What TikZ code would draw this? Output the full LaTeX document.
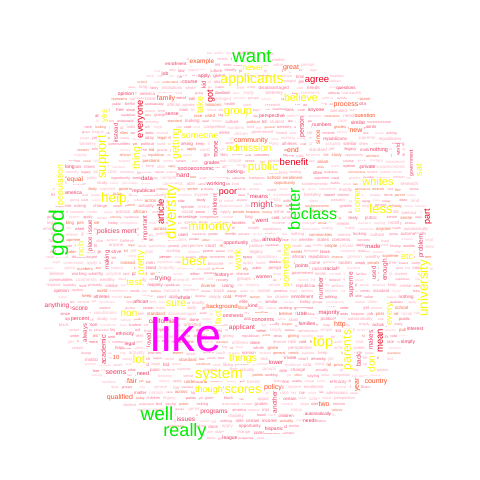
\documentclass[tikz,border=0pt]{standalone}
\usepackage{fontspec}
\setmainfont{Liberation Sans}
\definecolor{cY}{RGB}{250,248,0}
\definecolor{cG}{RGB}{0,238,0}
\definecolor{cM}{RGB}{255,0,255}
\definecolor{cR}{RGB}{235,0,30}
\definecolor{cO}{RGB}{255,80,40}
\definecolor{cP}{RGB}{240,60,100}
\definecolor{fA}{RGB}{255,120,150}
\definecolor{fB}{RGB}{255,160,180}
\definecolor{fC}{RGB}{250,90,120}
\definecolor{fD}{RGB}{250,110,80}
\definecolor{fE}{RGB}{255,185,200}
\newcommand\wcfs[1]{\fontsize{#1}{#1}\selectfont}
\newcommand\wcW[7]{\node[wd, rotate=#5, text=#6, font=\wcfs{#4}] (w-#1) at (#2,#3) {#7};}
\tikzset{
  wd/.style={inner sep=0.5pt, fill=white, text height=0.75em, text depth=0.2em},
  fw/.style={inner sep=0.2pt}
}
\pgfmathdeclarerandomlist{fillw}{{sense}{opinion}{job}{course}{apply}{kid}{enrollment}{instead}{racism}{admitted}{understand}{likely}{long}{america}{republican}{socioeconomic}{grades}{done}{looking}{working}{keep}{children}{opportunity}{history}{women}{african}{whole}{comments}{concerns}{percent}{today}{berkeley}{ethnicity}{legal}{loved}{yet}{lol}{times}{either}{institutions}{rate}{communities}{league}{hispanic}{another}{republicans}{automatically}{needs}{interest}{simply}{health}{probably}{study}{change}{families}{majority}{kind}{given}{points}{racial}{supreme}{saying}{used}{private}{using}{nothing}{world}{government}{free}{similar}{numbers}{anyone}{cold}{questions}{vote}{competitive}{perspective}{person}{law}{since}{athletes}{giving}{disadvantaged}{political}{asking}{diverse}{student}{based}{often}{states}{chance}{culture}{asian}{white}{black}{school}{high}{income}{social}{class}{fair}{need}{race}{legacy}{elite}{public}{admissions}{quota}{court}{status}{research}{reason}{standard}{value}{across}{mostly}{actually}{whether}{believe}{able}{general}{groups}{likely}{matter}{certain}{simple}{become}{wealthy}{percentage}{berkeley}{ucla}{parent}}
\pgfmathdeclarerandomlist{fillc}{{fA}{fB}{fC}{fD}{fE}{fA}{fB}{fE}}
\begin{document}
\begin{tikzpicture}[x=1pt,y=-1pt]
\useasboundingbox (0,0) rectangle (480,480);
\fill[white] (0,0) rectangle (480,480);
\pgfmathsetseed{4242}
\foreach \row in {0,...,69}{
  \pgfmathsetmacro\yy{54+\row*5.65}
  \pgfmathsetmacro\hw{196*sqrt(max(0,1-((\yy-247)/196)^2))}
  \pgfmathsetmacro\xe{238+\hw-8}
  \pgfmathsetmacro\xs{238-\hw+10*rnd}
  \xdef\curx{\xs}
  \foreach \k in {1,...,40}{
    \ifdim\curx pt<\xe pt
      \pgfmathrandomitem\ww{fillw}
      \pgfmathrandomitem\cc{fillc}
      \pgfmathsetmacro\fsz{2.9+1.8*rnd}
      \pgfmathsetmacro\yj{\yy+0.8*rnd-0.4}
      \node[fw, anchor=west, text=\cc, font=\wcfs{\fsz}] (r\row-\k) at (\curx,\yj) {\ww};
      \path (r\row-\k.east);
      \pgfgetlastxy\ex\ey
      \pgfmathsetmacro\nx{\ex+1+(rnd<0.3?13*rnd:2*rnd)}
      \xdef\curx{\nx}
    \fi
  }
}
% medium orange / pink words
\wcW{example}{202}{61}{6.5}{0}{cO}{example}
\wcW{enrollment}{176}{63}{4.5}{0}{cP}{enrollment}
\wcW{great}{291}{67}{7}{0}{cO}{great}
\wcW{family}{166}{98}{7}{0}{cO}{family}
\wcW{sense}{172}{113}{5}{0}{cP}{sense}
\wcW{opinion}{126}{93}{5}{0}{cP}{opinion}
\wcW{community}{251}{140}{7}{0}{cO}{community}
\wcW{end}{293}{150}{7}{0}{cO}{end}
\wcW{process}{346}{104}{7}{0}{cO}{process}
\wcW{new}{356}{130}{7}{0}{cO}{new}
\wcW{question}{365}{115}{5.5}{0}{cO}{question}
\wcW{questions}{346}{87}{4.5}{0}{cP}{questions}
\wcW{anyone}{316}{109}{5}{0}{cP}{anyone}
\wcW{person}{301}{127}{7}{90}{cP}{person}
\wcW{since}{317}{137}{6}{90}{cO}{since}
\wcW{numbers}{322}{124}{5}{0}{cP}{numbers}
\wcW{similar}{358}{122}{5}{0}{cP}{similar}
\wcW{perspective}{272}{115}{5}{0}{cP}{perspective}
\wcW{course}{190}{81}{5}{0}{cP}{course}
\wcW{apply}{204}{75}{5}{0}{cP}{apply}
\wcW{job}{165}{73}{5}{0}{cP}{job}
\wcW{kid}{203}{85}{6}{90}{cP}{kid}
\wcW{money}{215}{148}{7}{90}{cP}{money}
\wcW{instead}{115}{133}{6}{90}{cP}{instead}
\wcW{equal}{75}{179}{6.5}{0}{cO}{equal}
\wcW{long}{70}{166}{5}{0}{cP}{long}
\wcW{america}{73}{192}{5}{0}{cP}{america}
\wcW{data}{147}{178}{6}{0}{cP}{data}
\wcW{republican}{144}{190}{5}{0}{cP}{republican}
\wcW{hard}{183}{175}{6.5}{0}{cP}{hard}
\wcW{socioeconomic}{196}{168}{5.5}{0}{cP}{socioeconomic}
\wcW{grades}{212}{162}{5}{0}{cP}{grades}
\wcW{looking}{235}{171}{5}{0}{cP}{looking}
\wcW{working}{216}{183}{5.5}{0}{cP}{working}
\wcW{policies}{117}{231}{6.8}{0}{cP}{policies merit}
\wcW{place}{89}{244}{6}{90}{cP}{place}
\wcW{issue}{89}{227}{6}{90}{cP}{issue}
\wcW{making}{106}{260}{6}{90}{cP}{making}
\wcW{important}{144}{228}{6}{90}{cP}{important}
\wcW{trying}{163}{278}{6.5}{0}{cP}{trying}
\wcW{anything}{57}{305}{6.5}{0}{cP}{anything}
\wcW{score}{80}{308}{6.5}{0}{cP}{score}
\wcW{percent}{80}{318}{5.5}{0}{cP}{percent}
\wcW{california}{162}{321}{6.5}{0}{cP}{california}
\wcW{african}{141}{301}{5}{0}{cP}{african}
\wcW{background}{222}{306}{6}{0}{cO}{background}
\wcW{comments}{232}{314.5}{5}{0}{cP}{comments}
\wcW{applicant}{242}{327}{6.5}{0}{cP}{applicant}
\wcW{history}{222}{274}{5}{0}{cP}{history}
\wcW{opportunity}{236}{242}{5}{0}{cP}{opportunity}
\wcW{women}{264}{276}{5}{0}{cP}{women}
\wcW{already}{272}{239}{6}{0}{cP}{already}
\wcW{went}{262}{220}{6}{0}{cP}{went}
\wcW{means}{259}{196}{6}{0}{cP}{means}
\wcW{kind}{253}{305}{5}{0}{cP}{kind}
\wcW{concerns}{263}{318.5}{5.5}{0}{cP}{concerns}
\wcW{whole}{184}{297}{5}{0}{cP}{whole}
\wcW{children}{214}{205}{6}{90}{cP}{children}
\wcW{hispanic}{274}{428}{5}{0}{cP}{hispanic}
\wcW{league}{230}{437}{5}{0}{cP}{league}
\wcW{issues}{186}{419}{6.5}{0}{cP}{issues}
\wcW{programs}{214}{411}{6.5}{0}{cP}{programs}
\wcW{qualified}{120}{397}{7}{0}{cO}{qualified}
\wcW{fair}{132}{381}{7}{0}{cO}{fair}
\wcW{seems}{116}{372}{7}{0}{cP}{seems}
\wcW{academic}{103}{350}{7}{90}{cP}{academic}
\wcW{always}{84}{333}{6}{90}{cP}{always}
\wcW{ten}{116}{357}{6}{0}{cO}{10}
\wcW{legal}{130}{343}{5}{0}{cP}{legal}
\wcW{ethnicity}{125}{333}{5}{0}{cP}{ethnicity}
\wcW{loved}{148}{340}{6}{90}{cP}{loved}
\wcW{need}{143}{373}{5.5}{0}{cP}{need}
\wcW{policy}{273}{387}{7}{0}{cO}{policy}
\wcW{another}{274}{402}{6.5}{90}{cP}{another}
\wcW{two}{324}{404}{7}{0}{cO}{two}
\wcW{automatically}{318}{413}{4.5}{0}{cP}{automatically}
\wcW{needs}{310}{420}{5}{0}{cP}{needs}
\wcW{country}{376}{381}{7}{0}{cO}{country}
\wcW{year}{356}{385}{7}{90}{cO}{year}
\wcW{back}{358}{360}{6.5}{90}{cP}{back}
\wcW{makes}{370}{340}{6.5}{90}{cP}{makes}
\wcW{interest}{415}{328}{5}{0}{cP}{interest}
\wcW{simply}{408}{341}{5}{0}{cP}{simply}
\wcW{http}{340}{324}{7}{0}{cO}{http}
\wcW{majority}{329}{312}{6}{0}{cP}{majority}
\wcW{families}{307}{323}{5}{0}{cP}{families}
\wcW{use}{302}{313}{6}{0}{cP}{use}
\wcW{lower}{276}{362}{6}{0}{cP}{lower}
\wcW{made}{373}{246}{6}{0}{cP}{made}
\wcW{enough}{384}{270}{6.5}{90}{cP}{enough}
\wcW{used}{373}{273}{6}{90}{cP}{used}
\wcW{problem}{420}{246}{6.5}{90}{cP}{problem}
\wcW{supreme}{350}{285}{6.5}{90}{cP}{supreme}
\wcW{number}{320}{288}{6.5}{90}{cP}{number}
\wcW{points}{302}{265}{5}{0}{cP}{points}
\wcW{racial}{331}{268}{5}{0}{cP}{racial}
\wcW{private}{368}{166}{5}{0}{cP}{private}
\wcW{nothing}{379}{149}{5.5}{0}{cP}{nothing}
\wcW{government}{410}{163}{5}{90}{cP}{government}
\wcW{world}{397}{150}{5}{90}{cP}{world}
% red words
\wcW{article}{161}{212}{9.5}{90}{cR}{article}
\wcW{everyone}{140}{119}{9.3}{90}{cR}{everyone}
\wcW{got}{210}{96}{9}{90}{cR}{got}
\wcW{agree}{317}{80}{9.5}{0}{cR}{agree}
\wcW{part}{427}{217}{9}{90}{cR}{part}
\wcW{mean}{380}{341}{9.5}{90}{cR}{mean}
\wcW{poor}{228}{192}{9}{0}{cR}{poor}
\wcW{might}{262}{205}{9}{0}{cP}{might}
\wcW{benefit}{294}{163}{9.5}{0}{cR}{benefit}
% yellow words
\wcW{applicants}{252}{81}{14}{0}{cY}{applicants}
\wcW{never}{253}{68}{8.5}{0}{cY}{never}
\wcW{believe}{301}{99}{10.7}{0}{cY}{believe}
\wcW{group}{238}{112}{11}{0}{cY}{group}
\wcW{someone}{200}{136}{9}{0}{cY}{someone}
\wcW{admission}{249}{149}{10}{0}{cY}{admission}
\wcW{take}{200}{105}{9}{90}{cY}{take}
\wcW{getting}{176}{144}{10.5}{90}{cY}{getting}
\wcW{yes}{104}{116}{8}{90}{cY}{yes}
\wcW{support}{103}{157}{13}{90}{cY}{support}
\wcW{thing}{137}{158}{10.5}{90}{cY}{thing}
\wcW{population}{60}{185}{8.7}{90}{cY}{population}
\wcW{help}{114}{200}{13.5}{0}{cY}{help}
\wcW{rich}{81}{249}{9}{90}{cY}{rich}
\wcW{diversity}{173}{212}{15}{90}{cY}{diversity}
\wcW{minority}{210}{228}{12.3}{0}{cY}{minority}
\wcW{best}{194}{263}{12.7}{0}{cY}{best}
\wcW{pretty}{141}{263}{10}{90}{cY}{pretty}
\wcW{test}{134}{283}{9.5}{0}{cY}{test}
\wcW{sure}{176}{304}{10.5}{0}{cY}{sure}
\wcW{non}{129}{314}{10}{0}{cY}{non}
\wcW{fact}{218}{318}{8}{90}{cY}{fact}
\wcW{work}{238}{260}{9.5}{90}{cY}{work}
\wcW{something}{286}{266}{9.3}{90}{cY}{something}
\wcW{public}{263}{168}{11.5}{0}{cY}{public}
\wcW{whites}{378}{183}{11}{0}{cY}{whites}
\wcW{less}{381}{211}{13}{0}{cY}{less}
\wcW{come}{357}{201}{9}{90}{cY}{come}
\wcW{sat}{419}{170}{9}{90}{cY}{sat}
\wcW{university}{425}{288}{13.5}{90}{cY}{university}
\wcW{etc}{407}{257}{9}{0}{cY}{etc}
\wcW{every}{389}{314}{9}{90}{cY}{every}
\wcW{top}{323}{344}{14.5}{0}{cY}{top}
\wcW{parents}{348}{350}{12}{90}{cY}{parents}
\wcW{don}{372}{364}{10}{90}{cY}{don}
\wcW{lot}{139}{361}{12}{0}{cY}{lot}
\wcW{system}{219}{376}{15}{0}{cY}{system}
\wcW{scores}{243}{390.5}{12.5}{0}{cY}{scores}
\wcW{though}{209}{390}{9}{0}{cY}{though}
\wcW{things}{243}{359}{10.4}{0}{cY}{things}
% green and magenta words
\wcW{want}{252}{60}{18.5}{0}{cG}{want}
\wcW{good}{61}{233}{21}{90}{cG}{good}
\wcW{better}{297}{209}{16.5}{90}{cG}{better}
\wcW{class}{319}{217}{16}{0}{cG}{class}
\wcW{well}{157}{418}{19}{0}{cG}{well}
\wcW{really}{185}{434}{18}{0}{cG}{really}
\node[wd, text depth=0pt, text=cM, font=\wcfs{47}] (w-like) at (186,348) {like};
\end{tikzpicture}
\end{document}
